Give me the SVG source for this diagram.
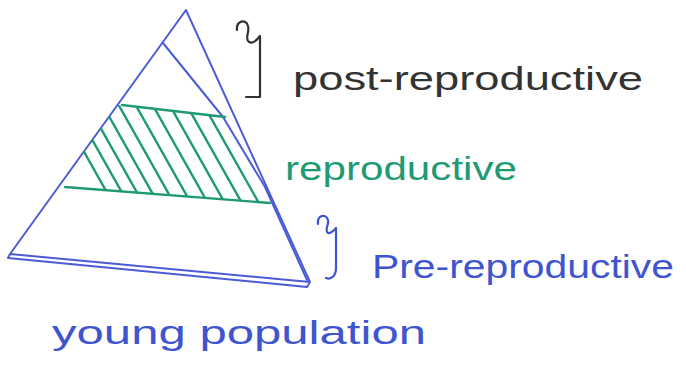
<svg xmlns="http://www.w3.org/2000/svg" width="686" height="372" viewBox="0 0 686 372">
<style>
.tri{fill:none;stroke:#4a5cd6;stroke-width:2;stroke-linejoin:round;stroke-linecap:round}
.grn{fill:none;stroke:#1f9a74;stroke-width:2.4;stroke-linecap:round}
.brace{fill:none;stroke:#333;stroke-width:2.2;stroke-linecap:round;stroke-linejoin:round}
.bbrace{fill:none;stroke:#3f55d0;stroke-width:2.2;stroke-linecap:round;stroke-linejoin:round}
.lbl{font-family:"Liberation Sans","DejaVu Sans",sans-serif;font-size:33px}
</style>
<defs>
<clipPath id="band"><polygon points="117,105 225,117 262,188 270,203 58,187"/></clipPath>
</defs>
<rect width="686" height="372" fill="#fff"/>
<g id="pyramid">
<path class="tri" d="M186,10 L10,254 M186,10 L310,282 M10,254 L310,282 M8,258 L307,287 M8,258 L10,254 M307,287 L310,282"/>
<path class="tri" d="M163,43 L223,117 L265,187 L307,280" stroke-width="1.6"/>
</g>
<g id="reproductive-band">
<path class="grn" d="M122,105 L225,117 M65,187 L270,203"/>
<g clip-path="url(#band)">
<path class="grn" stroke-width="2" d="M52,95 l62,110 M67,95 l62,110 M82,95 l62,110 M97,95 l62,110 M113,95 l62,110 M130,95 l62,110 M147,95 l62,110 M164,95 l62,110 M181,95 l62,110 M198,95 l62,110 M215,95 l62,110 M232,95 l62,110"/>
</g>
</g>
<g id="post-reproductive">
<path class="brace" d="M237,30 C236,21 246,18 248,26 C250,33 244,38 249,42 C253,44 257,40 260,36 L260,97 L246,97"/>
<text class="lbl" x="293" y="90" fill="#333" textLength="350" lengthAdjust="spacingAndGlyphs">post-reproductive</text>
</g>
<g id="reproductive">
<text class="lbl" x="285" y="180" fill="#1f9a74" textLength="232" lengthAdjust="spacingAndGlyphs">reproductive</text>
</g>
<g id="pre-reproductive">
<path class="bbrace" d="M318,224 C317,215 326,213 328,220 C329,226 324,230 328,233 C331,234 334,230 336,228 L336,268 C336,276 331,280 326,278"/>
<text class="lbl" x="372" y="278" fill="#3f55d0" textLength="302" lengthAdjust="spacingAndGlyphs">Pre-reproductive</text>
</g>
<g id="caption">
<text class="lbl" x="52" y="344" fill="#3f55d0" textLength="374" lengthAdjust="spacingAndGlyphs">young population</text>
</g>
</svg>
